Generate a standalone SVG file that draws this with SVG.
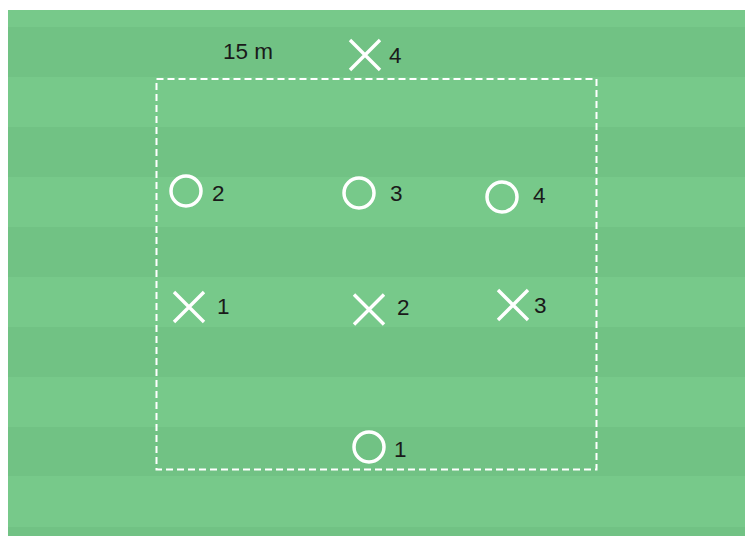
<svg xmlns="http://www.w3.org/2000/svg" width="745" height="536" viewBox="0 0 745 536">
<defs>
<style>
.light{fill:#77c98a}
.dark{fill:#71c284}
.area{fill:none;stroke:#ffffff;stroke-width:2;stroke-dasharray:7 4}
.o{fill:none;stroke:#ffffff;stroke-width:3.5}
.x{stroke:#ffffff;stroke-width:3.4;stroke-linecap:butt}
.lbl{font-family:"Liberation Sans",Arial,sans-serif;font-size:22.5px;fill:#1a1a1a}
</style>
</defs>
<rect x="0" y="0" width="745" height="536" fill="#ffffff"/>
<g id="field">
<rect class="light" x="8" y="10" width="737" height="526"/>
<rect class="dark" x="8" y="27" width="737" height="50"/>
<rect class="dark" x="8" y="127" width="737" height="50"/>
<rect class="dark" x="8" y="227" width="737" height="50"/>
<rect class="dark" x="8" y="327" width="737" height="50"/>
<rect class="dark" x="8" y="427" width="737" height="49"/>
<rect class="dark" x="8" y="527" width="737" height="9"/>
</g>
<g id="area">
<rect class="area" x="156.5" y="79" width="440" height="390.5"/>
<text class="lbl" x="223" y="59">15 m</text>
</g>
<g id="x4"><path class="x" d="M350 40 L380 70 M380 40 L350 70"/><text class="lbl" x="389" y="63">4</text></g>
<g id="x1"><path class="x" d="M174 292 L204 322 M204 292 L174 322"/><text class="lbl" x="217" y="314">1</text></g>
<g id="x2"><path class="x" d="M354 294.5 L384 324.5 M384 294.5 L354 324.5"/><text class="lbl" x="397" y="315">2</text></g>
<g id="x3"><path class="x" d="M498 290 L528 320 M528 290 L498 320"/><text class="lbl" x="534" y="313">3</text></g>
<g id="o2"><circle class="o" cx="186" cy="191" r="15"/><text class="lbl" x="212" y="201">2</text></g>
<g id="o3"><circle class="o" cx="359" cy="193" r="15"/><text class="lbl" x="390" y="201">3</text></g>
<g id="o4"><circle class="o" cx="502" cy="197" r="15"/><text class="lbl" x="533" y="203">4</text></g>
<g id="o1"><circle class="o" cx="369" cy="447" r="15"/><text class="lbl" x="394" y="457">1</text></g>
<g id="connectors"></g>
</svg>
